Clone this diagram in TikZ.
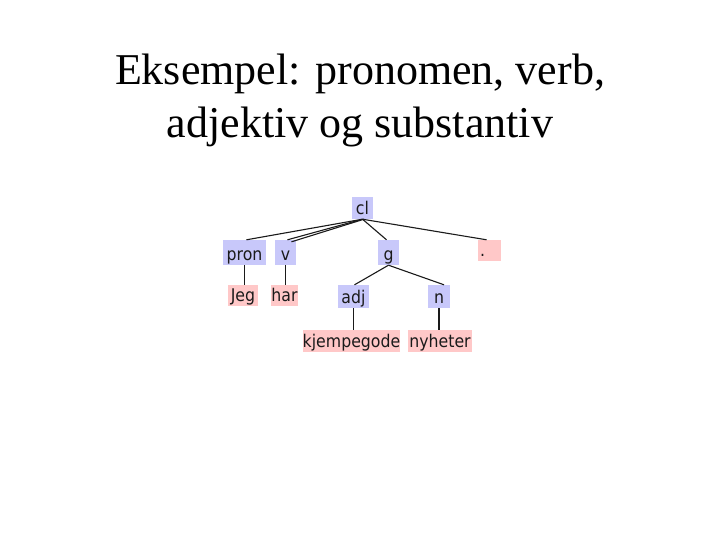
\documentclass[tikz,border=0pt]{standalone}
\usepackage{fontspec}
\setmainfont{Liberation Serif}
\newfontfamily\treefont[FakeStretch=0.9]{DejaVu Sans}
\definecolor{catblue}{HTML}{C8C8FA}
\definecolor{wordpink}{HTML}{FFC8C8}
\definecolor{inkgray}{HTML}{1A1A1A}
\begin{document}
\begin{tikzpicture}[x=1pt,y=-1pt,
  titletext/.style={font=\fontsize{44}{53}\selectfont, anchor=base, inner sep=0pt},
  treetext/.style={font=\treefont\fontsize{17.5}{19}\selectfont, text=inkgray, inner sep=0pt, text depth=4.5pt},
  catbox/.style={fill=catblue, treetext},
  wordbox/.style={fill=wordpink, treetext},
  edge/.style={draw=inkgray, line width=1.1pt}]
\useasboundingbox[fill=white] (0,0) rectangle (720,540);
\node[titletext] (t1) at (360,85) {Eksempel: pronomen, verb,};
\node[titletext] (t2) at (360,138) {adjektiv og substantiv};

\node[catbox, minimum width=21, text height=17.5pt] (cl) at (362.5,208) {cl};
\node[catbox, minimum width=43, text height=20.5pt] (pron) at (244.5,252.5) {pron};
\node[catbox, minimum width=21, text height=20.5pt] (v) at (285.5,252.5) {v};
\node[catbox, minimum width=21, text height=20.5pt] (g) at (388.5,252.5) {g};
\node[wordbox, text height=16.5pt, text width=19pt, align=left, inner xsep=2pt] (dot) at (489.5,250.5) {.};
\node[wordbox, minimum width=30, text height=16.5pt] (jeg) at (243,295.5) {Jeg};
\node[wordbox, minimum width=27, text height=16.5pt] (har) at (284.5,295.5) {har};
\node[catbox, minimum width=31, text height=18.5pt] (adj) at (353.5,296.5) {adj};
\node[catbox, minimum width=22, text height=18.5pt] (n) at (439,296.5) {n};
\node[wordbox, minimum width=97, text height=17.5pt] (kj) at (351.5,341) {kjempegode};
\node[wordbox, minimum width=64, text height=17.5pt] (ny) at (440,341) {nyheter};

\draw[edge] (cl.south) -- ([xshift=2]pron.north);
\draw[edge] (cl.south) -- ([xshift=2]v.north);
\draw[edge] ([xshift=1.5]cl.south) -- ([xshift=6,yshift=-2]v.north);
\draw[edge] (cl.south) -- ([xshift=-2]g.north);
\draw[edge] (cl.south) -- ([xshift=-3]dot.north);
\draw[edge] (g.south) -- ([xshift=1]adj.north);
\draw[edge] (g.south) -- ([xshift=5]n.north);
\draw[edge] (pron.south) -- (pron.south |- jeg.north);
\draw[edge] (v.south) -- (v.south |- har.north);
\draw[edge] (adj.south) -- (adj.south |- kj.north);
\draw[edge] (n.south) -- (n.south |- ny.north);
\end{tikzpicture}
\end{document}
